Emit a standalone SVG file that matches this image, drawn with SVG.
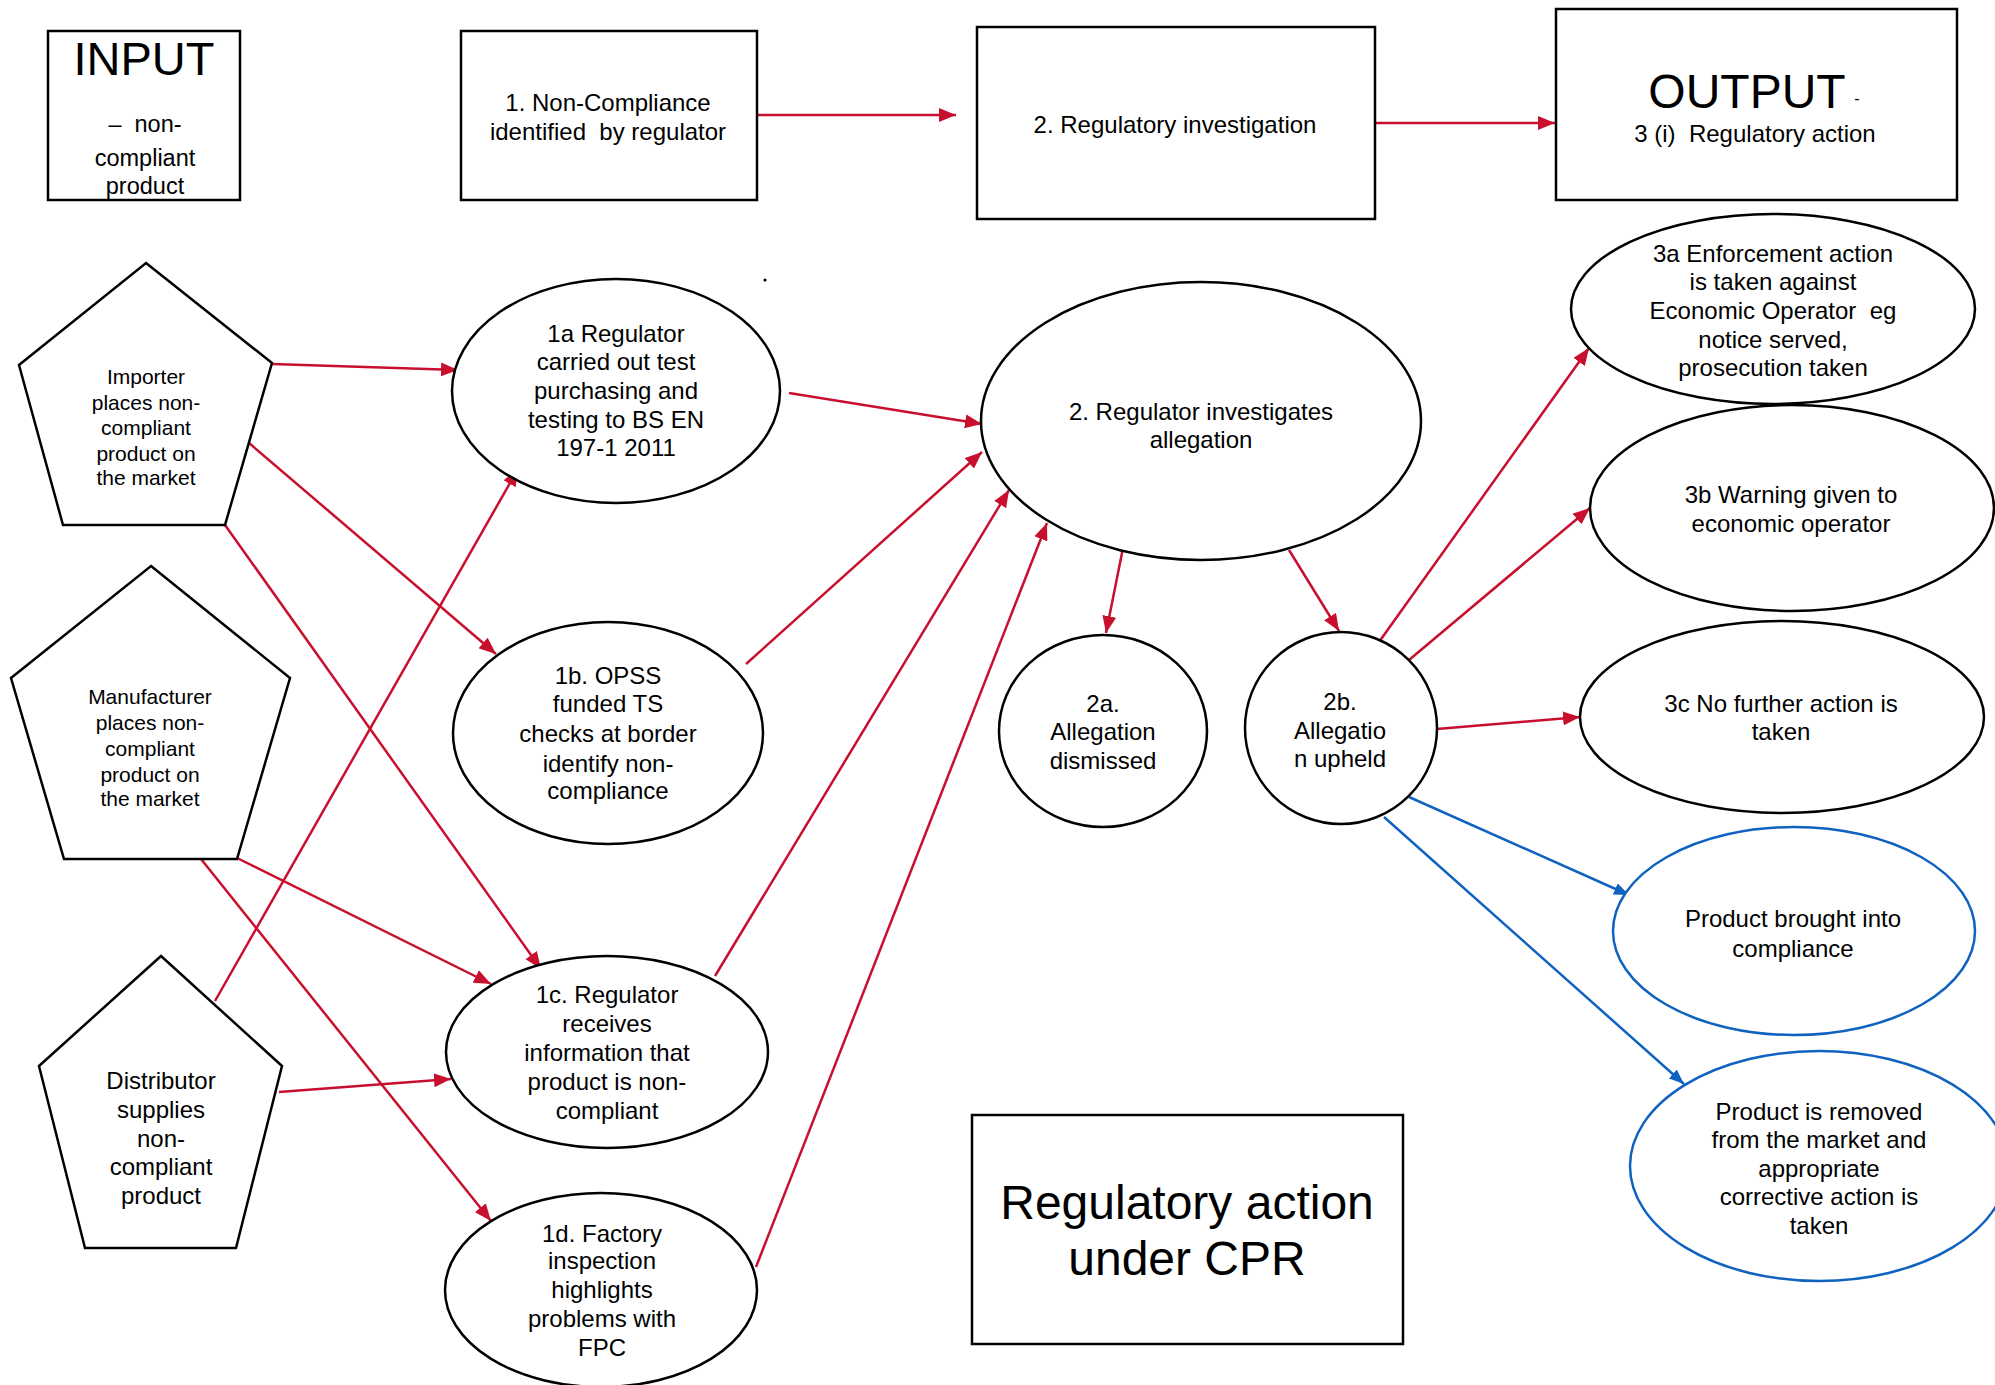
<svg xmlns="http://www.w3.org/2000/svg" width="1995" height="1385" viewBox="0 0 1995 1385">
<style>
text{font-family:"Liberation Sans",Arial,sans-serif;fill:#000;text-anchor:middle;white-space:pre}
.t{font-size:24px}
.s{font-size:21px}
.big{font-size:48px}
.box{fill:#fff;stroke:#000;stroke-width:2.5}
.el{fill:#fff;stroke:#000;stroke-width:2.5}
.bel{fill:#fff;stroke:#0F62C0;stroke-width:2.5}
.pen{fill:#fff;stroke:#000;stroke-width:2.5;stroke-linejoin:miter}
.r{stroke:#C8102E;stroke-width:2.5;fill:none;marker-end:url(#ar)}
.b{stroke:#0F62C0;stroke-width:2.5;fill:none;marker-end:url(#ab)}
</style>
<defs>
<marker id="ar" markerUnits="userSpaceOnUse" markerWidth="18" markerHeight="14" refX="17" refY="7" orient="auto"><path d="M0,0 L17,7 L0,14 z" fill="#C8102E"/></marker>
<marker id="ab" markerUnits="userSpaceOnUse" markerWidth="16" markerHeight="12" refX="15" refY="6" orient="auto"><path d="M0,0 L15,6 L0,12 z" fill="#0F62C0"/></marker>
</defs>
<rect width="1995" height="1385" fill="#fff"/>

<g id="connectors">
<line class="r" x1="758" y1="115" x2="956" y2="115"/>
<line class="r" x1="1375" y1="123" x2="1555" y2="123"/>
<line class="r" x1="272" y1="364" x2="458" y2="370"/>
<line class="r" x1="249" y1="443" x2="496" y2="654"/>
<line class="r" x1="225" y1="525" x2="541" y2="969"/>
<line class="r" x1="237" y1="858" x2="491" y2="984"/>
<line class="r" x1="201" y1="859" x2="491" y2="1221"/>
<line class="r" x1="215" y1="1001" x2="518" y2="469"/>
<line class="r" x1="279" y1="1092" x2="451" y2="1079"/>
<line class="r" x1="789" y1="393" x2="982" y2="424"/>
<line class="r" x1="746" y1="664" x2="982" y2="452"/>
<line class="r" x1="715" y1="976" x2="1009" y2="490"/>
<line class="r" x1="756" y1="1267" x2="1047" y2="523"/>
<line class="r" x1="1124" y1="543" x2="1106" y2="633"/>
<line class="r" x1="1289" y1="550" x2="1339" y2="631"/>
<line class="r" x1="1379" y1="642" x2="1589" y2="348"/>
<line class="r" x1="1409" y1="660" x2="1590" y2="508"/>
<line class="r" x1="1437" y1="729" x2="1580" y2="717"/>
<line class="b" x1="1409" y1="797" x2="1629" y2="895"/>
<line class="b" x1="1384" y1="817" x2="1684" y2="1084"/>
</g>

<circle cx="765" cy="280" r="1.6" fill="#000"/>

<g id="input">
<rect class="box" x="48" y="31" width="192" height="169"/>
<text x="144" y="75" style="font-size:47px">INPUT</text>
<text style="font-size:23.5px" x="145" y="132">–  non-</text>
<text style="font-size:23.5px" x="145" y="166">compliant</text>
<text style="font-size:23.5px" x="145" y="194">product</text>
</g>

<g id="box1">
<rect class="box" x="461" y="31" width="296" height="169"/>
<text class="t" x="608" y="111">1. Non-Compliance</text>
<text class="t" x="608" y="140">identified  by regulator</text>
</g>

<g id="box2">
<rect class="box" x="977" y="27" width="398" height="192"/>
<text class="t" x="1175" y="133">2. Regulatory investigation</text>
</g>

<g id="output">
<rect class="box" x="1556" y="9" width="401" height="191"/>
<text class="big" x="1747" y="108">OUTPUT</text>
<text x="1857" y="104" style="font-size:16px">-</text>
<text class="t" x="1755" y="142">3 (i)  Regulatory action</text>
</g>

<g id="cpr">
<rect class="box" x="972" y="1115" width="431" height="229"/>
<text class="big" x="1187" y="1219">Regulatory action</text>
<text class="big" x="1187" y="1275">under CPR</text>
</g>

<g id="importer">
<polygon class="pen" points="146,263 272,363 225,525 63,525 19,365"/>
<text class="s" x="146" y="384">Importer</text>
<text class="s" x="146" y="410">places non-</text>
<text class="s" x="146" y="435">compliant</text>
<text class="s" x="146" y="461">product on</text>
<text class="s" x="146" y="485">the market</text>
</g>

<g id="manufacturer">
<polygon class="pen" points="151,566 290,678 237,859 64,859 11,678"/>
<text class="s" x="150" y="704">Manufacturer</text>
<text class="s" x="150" y="730">places non-</text>
<text class="s" x="150" y="756">compliant</text>
<text class="s" x="150" y="782">product on</text>
<text class="s" x="150" y="806">the market</text>
</g>

<g id="distributor">
<polygon class="pen" points="161,956 282,1066 236,1248 85,1248 39,1066"/>
<text class="t" x="161" y="1089">Distributor</text>
<text class="t" x="161" y="1118">supplies</text>
<text class="t" x="161" y="1147">non-</text>
<text class="t" x="161" y="1175">compliant</text>
<text class="t" x="161" y="1204">product</text>
</g>

<g id="n1a">
<ellipse class="el" cx="616" cy="391" rx="164" ry="112"/>
<text class="t" x="616" y="342">1a Regulator</text>
<text class="t" x="616" y="370">carried out test</text>
<text class="t" x="616" y="399">purchasing and</text>
<text class="t" x="616" y="428">testing to BS EN</text>
<text class="t" x="616" y="456">197-1 2011</text>
</g>

<g id="n1b">
<ellipse class="el" cx="608" cy="733" rx="155" ry="111"/>
<text class="t" x="608" y="684">1b. OPSS</text>
<text class="t" x="608" y="712">funded TS</text>
<text class="t" x="608" y="742">checks at border</text>
<text class="t" x="608" y="772">identify non-</text>
<text class="t" x="608" y="799">compliance</text>
</g>

<g id="n1c">
<ellipse class="el" cx="607" cy="1052" rx="161" ry="96"/>
<text class="t" x="607" y="1003">1c. Regulator</text>
<text class="t" x="607" y="1032">receives</text>
<text class="t" x="607" y="1061">information that</text>
<text class="t" x="607" y="1090">product is non-</text>
<text class="t" x="607" y="1119">compliant</text>
</g>

<g id="n1d">
<ellipse class="el" cx="601" cy="1290" rx="156" ry="97"/>
<text class="t" x="602" y="1242">1d. Factory</text>
<text class="t" x="602" y="1269">inspection</text>
<text class="t" x="602" y="1298">highlights</text>
<text class="t" x="602" y="1327">problems with</text>
<text class="t" x="602" y="1356">FPC</text>
</g>

<g id="n2">
<ellipse class="el" cx="1201" cy="421" rx="220" ry="139"/>
<text class="t" x="1201" y="420">2. Regulator investigates</text>
<text class="t" x="1201" y="448">allegation</text>
</g>

<g id="n2a">
<ellipse class="el" cx="1103" cy="731" rx="104" ry="96"/>
<text class="t" x="1103" y="712">2a.</text>
<text class="t" x="1103" y="740">Allegation</text>
<text class="t" x="1103" y="769">dismissed</text>
</g>

<g id="n2b">
<ellipse class="el" cx="1341" cy="728" rx="96" ry="96"/>
<text class="t" x="1340" y="710">2b.</text>
<text class="t" x="1340" y="739">Allegatio</text>
<text class="t" x="1340" y="767">n upheld</text>
</g>

<g id="n3a">
<ellipse class="el" cx="1773" cy="309" rx="202" ry="95"/>
<text class="t" x="1773" y="262">3a Enforcement action</text>
<text class="t" x="1773" y="290">is taken against</text>
<text class="t" x="1773" y="319">Economic Operator  eg</text>
<text class="t" x="1773" y="348">notice served,</text>
<text class="t" x="1773" y="376">prosecution taken</text>
</g>

<g id="n3b">
<ellipse class="el" cx="1792" cy="508" rx="202" ry="103"/>
<text class="t" x="1791" y="503">3b Warning given to</text>
<text class="t" x="1791" y="532">economic operator</text>
</g>

<g id="n3c">
<ellipse class="el" cx="1782" cy="717" rx="202" ry="96"/>
<text class="t" x="1781" y="712">3c No further action is</text>
<text class="t" x="1781" y="740">taken</text>
</g>

<g id="compliance">
<ellipse class="bel" cx="1794" cy="931" rx="181" ry="104"/>
<text class="t" x="1793" y="927">Product brought into</text>
<text class="t" x="1793" y="957">compliance</text>
</g>

<g id="removed">
<ellipse class="bel" cx="1819" cy="1166" rx="189" ry="115"/>
<text class="t" x="1819" y="1120">Product is removed</text>
<text class="t" x="1819" y="1148">from the market and</text>
<text class="t" x="1819" y="1177">appropriate</text>
<text class="t" x="1819" y="1205">corrective action is</text>
<text class="t" x="1819" y="1234">taken</text>
</g>
</svg>
